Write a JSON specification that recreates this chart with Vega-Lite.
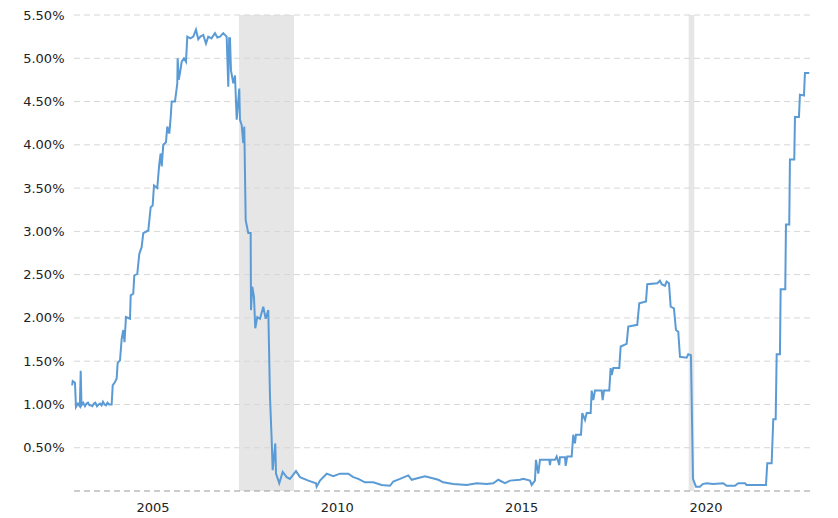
{
  "$schema": "https://vega.github.io/schema/vega-lite/v6.json",
  "width": 738,
  "height": 476,
  "autosize": {"type": "none"},
  "padding": {"left": 72, "top": 15, "right": 28, "bottom": 27},
  "background": "#ffffff",
  "config": {
    "view": {"stroke": null},
    "font": "DejaVu Sans",
    "axis": {"grid": false, "ticks": false, "domain": false, "labelFont": "DejaVu Sans", "labelFontSize": 13, "labelColor": "#222222"}
  },
  "datasets": {
    "recessions": [
      {"start": 2007.346, "end": 2008.838},
      {"start": 2019.543, "end": 2019.695}
    ],
    "grid": [
      {"level": 0.5}, {"level": 1.0}, {"level": 1.5}, {"level": 2.0}, {"level": 2.5}, {"level": 3.0},
      {"level": 3.5}, {"level": 4.0}, {"level": 4.5}, {"level": 5.0}, {"level": 5.5}
    ],
    "zero": [{"level": 0}],
    "rates": [
      {"year": 2002.82, "rate": 1.22},
      {"year": 2002.836, "rate": 1.27},
      {"year": 2002.898, "rate": 1.25},
      {"year": 2002.925, "rate": 0.97},
      {"year": 2002.979, "rate": 1.01},
      {"year": 2003.03, "rate": 0.98},
      {"year": 2003.053, "rate": 1.39},
      {"year": 2003.074, "rate": 0.99},
      {"year": 2003.12, "rate": 1.02},
      {"year": 2003.169, "rate": 0.98},
      {"year": 2003.21, "rate": 1.01},
      {"year": 2003.251, "rate": 1.02},
      {"year": 2003.29, "rate": 0.99},
      {"year": 2003.332, "rate": 0.99},
      {"year": 2003.37, "rate": 0.98},
      {"year": 2003.413, "rate": 1.01},
      {"year": 2003.45, "rate": 1.02},
      {"year": 2003.495, "rate": 0.98},
      {"year": 2003.54, "rate": 1.0},
      {"year": 2003.576, "rate": 1.01},
      {"year": 2003.62, "rate": 0.99},
      {"year": 2003.657, "rate": 1.03},
      {"year": 2003.70, "rate": 1.0},
      {"year": 2003.739, "rate": 0.99},
      {"year": 2003.78, "rate": 1.02},
      {"year": 2003.820, "rate": 1.0},
      {"year": 2003.893, "rate": 1.0},
      {"year": 2003.921, "rate": 1.22},
      {"year": 2003.983, "rate": 1.26},
      {"year": 2004.029, "rate": 1.30},
      {"year": 2004.056, "rate": 1.48},
      {"year": 2004.119, "rate": 1.51},
      {"year": 2004.165, "rate": 1.76},
      {"year": 2004.208, "rate": 1.86},
      {"year": 2004.241, "rate": 1.72},
      {"year": 2004.281, "rate": 2.01},
      {"year": 2004.390, "rate": 1.99},
      {"year": 2004.409, "rate": 2.26},
      {"year": 2004.479, "rate": 2.28},
      {"year": 2004.506, "rate": 2.49},
      {"year": 2004.588, "rate": 2.51},
      {"year": 2004.642, "rate": 2.74},
      {"year": 2004.707, "rate": 2.82},
      {"year": 2004.750, "rate": 2.98},
      {"year": 2004.886, "rate": 3.01},
      {"year": 2004.951, "rate": 3.28},
      {"year": 2005.005, "rate": 3.30},
      {"year": 2005.041, "rate": 3.53},
      {"year": 2005.130, "rate": 3.50},
      {"year": 2005.184, "rate": 3.78},
      {"year": 2005.222, "rate": 3.90},
      {"year": 2005.250, "rate": 3.75},
      {"year": 2005.293, "rate": 4.00},
      {"year": 2005.366, "rate": 4.03},
      {"year": 2005.401, "rate": 4.21},
      {"year": 2005.456, "rate": 4.13},
      {"year": 2005.494, "rate": 4.32},
      {"year": 2005.521, "rate": 4.50},
      {"year": 2005.610, "rate": 4.50},
      {"year": 2005.673, "rate": 4.71},
      {"year": 2005.683, "rate": 5.0},
      {"year": 2005.711, "rate": 4.75},
      {"year": 2005.746, "rate": 4.83},
      {"year": 2005.792, "rate": 4.96},
      {"year": 2005.854, "rate": 5.0},
      {"year": 2005.909, "rate": 4.96},
      {"year": 2005.944, "rate": 5.25},
      {"year": 2006.03, "rate": 5.23},
      {"year": 2006.107, "rate": 5.25},
      {"year": 2006.180, "rate": 5.33},
      {"year": 2006.242, "rate": 5.22},
      {"year": 2006.30, "rate": 5.25},
      {"year": 2006.378, "rate": 5.27},
      {"year": 2006.451, "rate": 5.17},
      {"year": 2006.513, "rate": 5.25},
      {"year": 2006.60, "rate": 5.23},
      {"year": 2006.695, "rate": 5.29},
      {"year": 2006.76, "rate": 5.24},
      {"year": 2006.831, "rate": 5.25},
      {"year": 2006.920, "rate": 5.29},
      {"year": 2007.012, "rate": 5.25},
      {"year": 2007.056, "rate": 4.67},
      {"year": 2007.080, "rate": 5.23},
      {"year": 2007.102, "rate": 5.23},
      {"year": 2007.129, "rate": 4.86},
      {"year": 2007.191, "rate": 4.71},
      {"year": 2007.238, "rate": 4.80},
      {"year": 2007.284, "rate": 4.29},
      {"year": 2007.354, "rate": 4.65},
      {"year": 2007.373, "rate": 4.29},
      {"year": 2007.419, "rate": 4.23},
      {"year": 2007.463, "rate": 4.02},
      {"year": 2007.490, "rate": 4.21},
      {"year": 2007.528, "rate": 3.13},
      {"year": 2007.598, "rate": 2.98},
      {"year": 2007.663, "rate": 2.98},
      {"year": 2007.672, "rate": 2.09},
      {"year": 2007.707, "rate": 2.36},
      {"year": 2007.753, "rate": 2.24},
      {"year": 2007.788, "rate": 1.88},
      {"year": 2007.842, "rate": 2.01},
      {"year": 2007.916, "rate": 1.99},
      {"year": 2008.005, "rate": 2.13},
      {"year": 2008.070, "rate": 1.99},
      {"year": 2008.141, "rate": 2.09},
      {"year": 2008.187, "rate": 1.09},
      {"year": 2008.233, "rate": 0.59},
      {"year": 2008.260, "rate": 0.24},
      {"year": 2008.331, "rate": 0.55},
      {"year": 2008.350, "rate": 0.20},
      {"year": 2008.439, "rate": 0.09},
      {"year": 2008.531, "rate": 0.22},
      {"year": 2008.640, "rate": 0.16},
      {"year": 2008.729, "rate": 0.14},
      {"year": 2008.803, "rate": 0.18},
      {"year": 2008.892, "rate": 0.23},
      {"year": 2009.001, "rate": 0.16},
      {"year": 2009.226, "rate": 0.12},
      {"year": 2009.434, "rate": 0.09},
      {"year": 2009.453, "rate": 0.05},
      {"year": 2009.543, "rate": 0.12},
      {"year": 2009.725, "rate": 0.20},
      {"year": 2009.904, "rate": 0.17},
      {"year": 2010.085, "rate": 0.20},
      {"year": 2010.311, "rate": 0.20},
      {"year": 2010.446, "rate": 0.16},
      {"year": 2010.582, "rate": 0.14},
      {"year": 2010.763, "rate": 0.10},
      {"year": 2010.989, "rate": 0.10},
      {"year": 2011.216, "rate": 0.07},
      {"year": 2011.442, "rate": 0.06},
      {"year": 2011.531, "rate": 0.11},
      {"year": 2011.713, "rate": 0.14},
      {"year": 2011.938, "rate": 0.18},
      {"year": 2012.030, "rate": 0.13},
      {"year": 2012.209, "rate": 0.15},
      {"year": 2012.391, "rate": 0.17},
      {"year": 2012.573, "rate": 0.15},
      {"year": 2012.752, "rate": 0.13},
      {"year": 2012.887, "rate": 0.10},
      {"year": 2013.158, "rate": 0.08},
      {"year": 2013.522, "rate": 0.07},
      {"year": 2013.793, "rate": 0.09},
      {"year": 2014.064, "rate": 0.08},
      {"year": 2014.243, "rate": 0.09},
      {"year": 2014.379, "rate": 0.13},
      {"year": 2014.561, "rate": 0.09},
      {"year": 2014.696, "rate": 0.12},
      {"year": 2014.968, "rate": 0.13},
      {"year": 2015.057, "rate": 0.14},
      {"year": 2015.239, "rate": 0.12},
      {"year": 2015.285, "rate": 0.07},
      {"year": 2015.374, "rate": 0.12},
      {"year": 2015.401, "rate": 0.36},
      {"year": 2015.464, "rate": 0.20},
      {"year": 2015.510, "rate": 0.36},
      {"year": 2015.762, "rate": 0.36},
      {"year": 2015.781, "rate": 0.30},
      {"year": 2015.800, "rate": 0.36},
      {"year": 2015.917, "rate": 0.36},
      {"year": 2015.963, "rate": 0.40},
      {"year": 2016.033, "rate": 0.30},
      {"year": 2016.052, "rate": 0.39},
      {"year": 2016.188, "rate": 0.39},
      {"year": 2016.207, "rate": 0.29},
      {"year": 2016.250, "rate": 0.40},
      {"year": 2016.370, "rate": 0.40},
      {"year": 2016.413, "rate": 0.65},
      {"year": 2016.459, "rate": 0.55},
      {"year": 2016.486, "rate": 0.65},
      {"year": 2016.622, "rate": 0.65},
      {"year": 2016.657, "rate": 0.90},
      {"year": 2016.731, "rate": 0.82},
      {"year": 2016.777, "rate": 0.90},
      {"year": 2016.885, "rate": 0.90},
      {"year": 2016.912, "rate": 1.16},
      {"year": 2016.956, "rate": 1.05},
      {"year": 2017.002, "rate": 1.16},
      {"year": 2017.183, "rate": 1.16},
      {"year": 2017.210, "rate": 1.05},
      {"year": 2017.246, "rate": 1.16},
      {"year": 2017.389, "rate": 1.16},
      {"year": 2017.427, "rate": 1.42},
      {"year": 2017.455, "rate": 1.34},
      {"year": 2017.498, "rate": 1.42},
      {"year": 2017.661, "rate": 1.42},
      {"year": 2017.699, "rate": 1.67},
      {"year": 2017.861, "rate": 1.70},
      {"year": 2017.905, "rate": 1.90},
      {"year": 2018.149, "rate": 1.92},
      {"year": 2018.203, "rate": 2.17},
      {"year": 2018.385, "rate": 2.19},
      {"year": 2018.420, "rate": 2.39},
      {"year": 2018.691, "rate": 2.40},
      {"year": 2018.765, "rate": 2.43},
      {"year": 2018.811, "rate": 2.39},
      {"year": 2018.900, "rate": 2.37},
      {"year": 2018.946, "rate": 2.42},
      {"year": 2019.009, "rate": 2.40},
      {"year": 2019.055, "rate": 2.13},
      {"year": 2019.144, "rate": 2.11},
      {"year": 2019.198, "rate": 1.86},
      {"year": 2019.261, "rate": 1.84},
      {"year": 2019.307, "rate": 1.55},
      {"year": 2019.489, "rate": 1.54},
      {"year": 2019.532, "rate": 1.58},
      {"year": 2019.605, "rate": 1.57},
      {"year": 2019.660, "rate": 0.14},
      {"year": 2019.741, "rate": 0.05},
      {"year": 2019.849, "rate": 0.05},
      {"year": 2019.923, "rate": 0.08},
      {"year": 2020.031, "rate": 0.09},
      {"year": 2020.210, "rate": 0.08},
      {"year": 2020.481, "rate": 0.09},
      {"year": 2020.574, "rate": 0.06},
      {"year": 2020.799, "rate": 0.06},
      {"year": 2020.888, "rate": 0.09},
      {"year": 2021.070, "rate": 0.09},
      {"year": 2021.116, "rate": 0.07},
      {"year": 2021.640, "rate": 0.07},
      {"year": 2021.675, "rate": 0.32},
      {"year": 2021.794, "rate": 0.32},
      {"year": 2021.838, "rate": 0.83},
      {"year": 2021.903, "rate": 0.83},
      {"year": 2021.930, "rate": 1.58},
      {"year": 2022.019, "rate": 1.58},
      {"year": 2022.038, "rate": 2.33},
      {"year": 2022.163, "rate": 2.33},
      {"year": 2022.182, "rate": 3.08},
      {"year": 2022.271, "rate": 3.08},
      {"year": 2022.290, "rate": 3.83},
      {"year": 2022.407, "rate": 3.83},
      {"year": 2022.426, "rate": 4.32},
      {"year": 2022.534, "rate": 4.32},
      {"year": 2022.561, "rate": 4.58},
      {"year": 2022.670, "rate": 4.57},
      {"year": 2022.697, "rate": 4.83},
      {"year": 2022.814, "rate": 4.83}
    ]
  },
  "layer": [
    {
      "data": {"name": "recessions"},
      "mark": {"type": "rect", "color": "#e6e6e6"},
      "encoding": {
        "x": {
          "field": "start", "type": "quantitative",
          "scale": {"domain": [2002.817, 2022.834], "nice": false, "zero": false},
          "axis": {"values": [2005, 2010, 2015, 2020], "format": "d", "title": null, "labelPadding": 10}
        },
        "x2": {"field": "end"}
      }
    },
    {
      "data": {"name": "grid"},
      "mark": {"type": "rule", "color": "#d6d6d6", "strokeWidth": 1, "strokeDash": [6, 4]},
      "encoding": {
        "y": {
          "field": "level", "type": "quantitative",
          "scale": {"domain": [0, 5.5], "nice": false, "zero": true},
          "axis": {
            "values": [0.5, 1.0, 1.5, 2.0, 2.5, 3.0, 3.5, 4.0, 4.5, 5.0, 5.5],
            "labelExpr": "format(datum.value, '.2f') + '%'", "title": null, "labelPadding": 8
          }
        }
      }
    },
    {
      "data": {"name": "zero"},
      "mark": {"type": "rule", "color": "#9a9a9a", "strokeWidth": 1, "strokeDash": [6, 4]},
      "encoding": {
        "y": {"field": "level", "type": "quantitative", "title": null}
      }
    },
    {
      "data": {"name": "rates"},
      "mark": {"type": "line", "color": "#5b9bd5", "strokeWidth": 2, "interpolate": "linear"},
      "encoding": {
        "x": {"field": "year", "type": "quantitative", "title": null},
        "y": {"field": "rate", "type": "quantitative", "title": null}
      }
    }
  ]
}
